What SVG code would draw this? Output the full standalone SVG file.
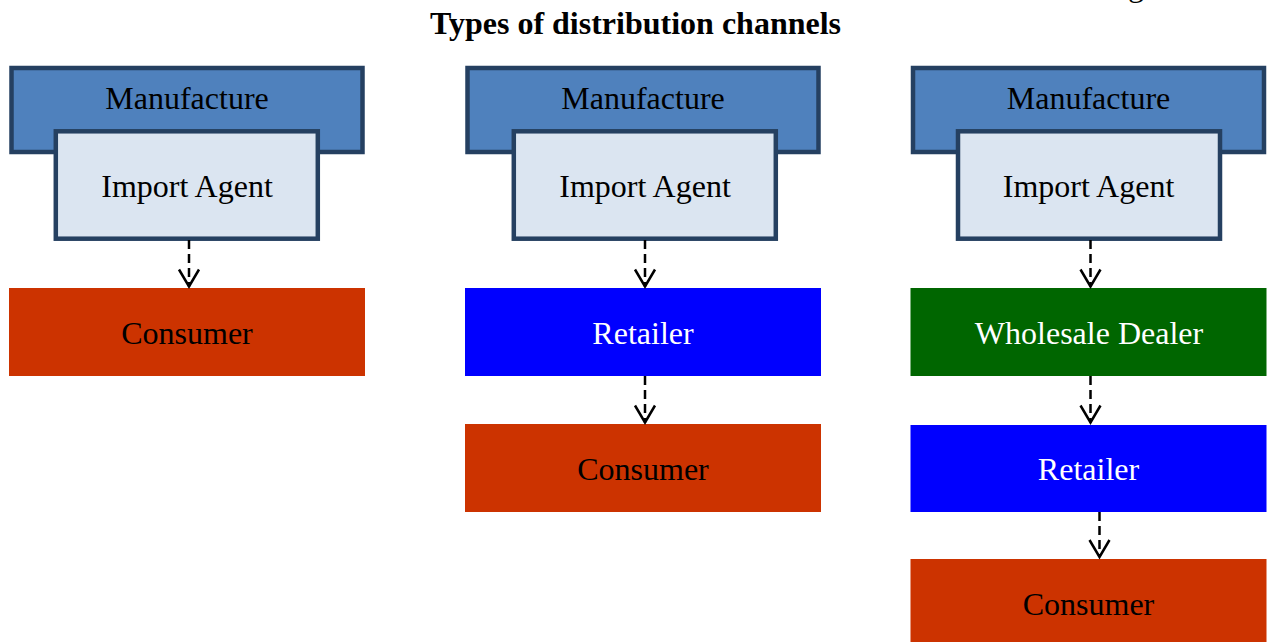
<svg xmlns="http://www.w3.org/2000/svg" width="1271" height="642" viewBox="0 0 1271 642">
<style>
  text { font-family: "Liberation Serif", "Times New Roman", serif; font-size: 32px; text-anchor: middle; }
  .title { font-weight: bold; }
  .mfg { fill: #4f81bd; stroke: #254061; stroke-width: 4.5; }
  .imp { fill: #dbe5f1; stroke: #254061; stroke-width: 4.5; }
  .cons { fill: #cc3300; }
  .ret { fill: #0000ff; }
  .whl { fill: #006600; }
  .dark { fill: #000000; }
  .light { fill: #ffffff; }
  .conn { stroke: #000000; stroke-width: 2.5; stroke-dasharray: 9 5; fill: none; marker-end: url(#chev); }
</style>
<defs>
  <marker id="chev" markerUnits="userSpaceOnUse" markerWidth="40" markerHeight="40" refX="0" refY="0" orient="auto" overflow="visible">
    <path d="M -17 -10 L 0 0 L -17 10" fill="none" stroke="#000000" stroke-width="2.5" stroke-dasharray="none"/>
  </marker>
</defs>
<rect width="1271" height="642" fill="#ffffff"/>
<text class="title" x="635.5" y="33.5">Types of distribution channels</text>
<text x="1136" y="-4">g</text>

<g id="col1-manufacture"><rect class="mfg" x="11.5" y="68" width="351" height="84"/><text class="dark" x="187" y="108.5">Manufacture</text></g>
<g id="col1-import"><rect class="imp" x="55.8" y="131.3" width="262" height="107.4"/><text class="dark" x="187" y="197">Import Agent</text></g>
<g id="col1-consumer"><rect class="cons" x="9" y="288" width="356" height="88"/><text class="dark" x="187" y="344">Consumer</text></g>

<g id="col2-manufacture"><rect class="mfg" x="467.5" y="68" width="351" height="84"/><text class="dark" x="643" y="108.5">Manufacture</text></g>
<g id="col2-import"><rect class="imp" x="513.8" y="131.3" width="262" height="107.4"/><text class="dark" x="645" y="197">Import Agent</text></g>
<g id="col2-retailer"><rect class="ret" x="465" y="288" width="356" height="88"/><text class="light" x="643" y="344">Retailer</text></g>
<g id="col2-consumer"><rect class="cons" x="465" y="424" width="356" height="88"/><text class="dark" x="643" y="480">Consumer</text></g>

<g id="col3-manufacture"><rect class="mfg" x="913" y="68" width="351" height="84"/><text class="dark" x="1088.5" y="108.5">Manufacture</text></g>
<g id="col3-import"><rect class="imp" x="958" y="131.3" width="262" height="107.4"/><text class="dark" x="1088.5" y="197">Import Agent</text></g>
<g id="col3-wholesale"><rect class="whl" x="910.5" y="288" width="356" height="88"/><text class="light" x="1089" y="344">Wholesale Dealer</text></g>
<g id="col3-retailer"><rect class="ret" x="910.5" y="425" width="356" height="87"/><text class="light" x="1088.5" y="480">Retailer</text></g>
<g id="col3-consumer"><rect class="cons" x="910.5" y="559" width="356" height="88"/><text class="dark" x="1088.5" y="615">Consumer</text></g>

<g id="connectors">
  <path class="conn" d="M 189 240 L 189 286.5"/>
  <path class="conn" d="M 645 240 L 645 286.5"/>
  <path class="conn" d="M 645 376 L 645 422.5"/>
  <path class="conn" d="M 1090.5 240 L 1090.5 286.5"/>
  <path class="conn" d="M 1090.5 376 L 1090.5 422.5"/>
  <path class="conn" d="M 1099.5 512 L 1099.5 557"/>
</g>
</svg>
